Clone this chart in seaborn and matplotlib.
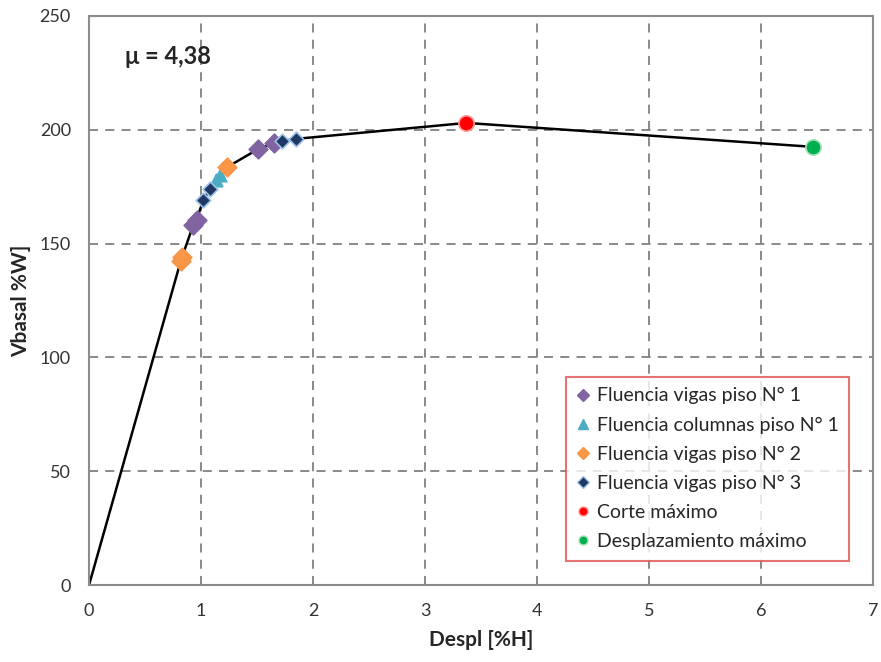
import numpy as np
import pandas as pd
import seaborn as sns
import matplotlib.pyplot as plt
from matplotlib.lines import Line2D

# Capacity curve (pushover)
curve_x = [0, 0.82, 0.83, 0.93, 0.96, 1.02, 1.08, 1.13, 1.17, 1.23, 1.51, 1.65, 1.72, 1.85, 3.37, 6.46]
curve_y = [0, 142.5, 144.0, 158.0, 160.5, 169.0, 174.0, 178.0, 180.0, 183.5, 191.5, 194.0, 195.0, 196.0, 203.0, 192.5]

vigas1_x = [0.93, 0.96, 1.51, 1.65]
vigas1_y = [158.0, 160.5, 191.5, 194.0]
columnas1_x = [1.13, 1.17]
columnas1_y = [178.0, 180.0]
vigas2_x = [0.82, 0.83, 1.23]
vigas2_y = [142.5, 144.0, 183.5]
vigas3_x = [1.02, 1.08, 1.72, 1.85]
vigas3_y = [169.0, 174.0, 195.0, 196.0]
corte_x = [3.37]
corte_y = [203.0]
despl_x = [6.46]
despl_y = [192.5]

sns.set_theme(style="white")
plt.rcParams['font.family'] = ['Lato', 'DejaVu Sans']

fig, ax = plt.subplots(figsize=(8.81, 6.62), dpi=100)
fig.subplots_adjust(left=0.101, right=0.991, bottom=0.116, top=0.976)

sns.lineplot(x=curve_x, y=curve_y, ax=ax, color="black", lw=1.8, sort=False, zorder=2)

series = [
    (vigas1_x, vigas1_y, "D", "#8064A2", "#8064A2", 9.5, "Fluencia vigas piso N° 1"),
    (columnas1_x, columnas1_y, "^", "#4BACC6", "#4BACC6", 9, "Fluencia columnas piso N° 1"),
    (vigas2_x, vigas2_y, "D", "#F79646", "#F79646", 9.5, "Fluencia vigas piso N° 2"),
    (vigas3_x, vigas3_y, "D", "#1F3864", "#9DC3E6", 7.5, "Fluencia vigas piso N° 3"),
    (corte_x, corte_y, "o", "#FF0000", "#FF9999", 11, "Corte máximo"),
    (despl_x, despl_y, "o", "#00B050", "#A9E2B8", 11, "Desplazamiento máximo"),
]
handles = []
for xs, ys, mk, fc, ec, ms, lab in series:
    sns.scatterplot(x=xs, y=ys, ax=ax, marker=mk, color=fc, edgecolor=ec,
                    s=ms ** 2, linewidth=1.2, zorder=3)
    handles.append(Line2D([], [], ls="none", marker=mk, markerfacecolor=fc,
                          markeredgecolor=ec, markersize=6.5, label=lab))

ax.set_xlim(0, 7)
ax.set_ylim(0, 250)
ax.set_xticks(range(0, 8))
ax.set_yticks(range(0, 251, 50))
ax.grid(True, color="#808080", ls=(0, (5, 4)), lw=1.3)
for s in ax.spines.values():
    s.set_color("#8c8c8c")
    s.set_linewidth(1.5)
ax.tick_params(axis="both", direction="out", length=5, width=1.2, color="#8c8c8c",
               labelsize=13, labelcolor="#333333", pad=8)

ax.set_xlabel("Despl [%H]", fontsize=15, fontweight="bold", labelpad=8)
ax.set_ylabel("Vbasal %W]", fontsize=15, fontweight="bold", labelpad=6)

ax.text(0.32, 232, "μ = 4,38", fontsize=17, fontweight="bold", va="center", ha="left")

leg = ax.legend(handles=handles, loc="lower right", bbox_to_anchor=(0.982, 0.026),
                fontsize=14, frameon=True, fancybox=False, handlelength=0.7,
                handletextpad=0.35, borderpad=0.55, labelspacing=0.62)
leg.get_frame().set_edgecolor("#E05050")
leg.get_frame().set_linewidth(1.5)

fig.savefig("out.png", dpi=100)
